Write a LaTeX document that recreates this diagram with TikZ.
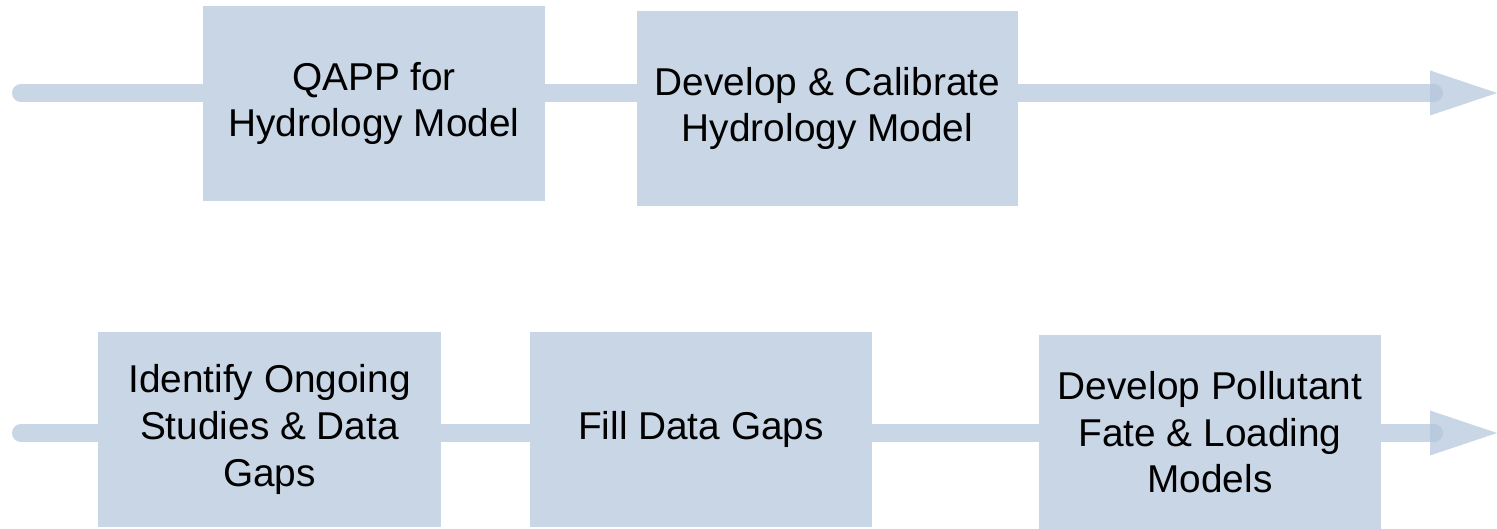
\documentclass[tikz,border=0pt]{standalone}
\usepackage{fontspec}
\setmainfont{Liberation Sans}
\usetikzlibrary{positioning}
\definecolor{boxblue}{RGB}{201,214,230}
\definecolor{flowblue}{RGB}{178,196,219}

\begin{document}
\begin{tikzpicture}[x=0.5pt,y=-0.5pt]
   \tikzstyle{box}=[fill=boxblue, inner sep=0pt, minimum height=97.5pt, align=center, font=\fontsize{19.4}{23.3}\selectfont]
   \tikzstyle{flow}=[draw=flowblue, opacity=0.7, line width=9pt, line cap=round]
   \tikzstyle{head}=[fill=flowblue, opacity=0.7]
   \useasboundingbox (0,0) rectangle (1497,529);

\coordinate (startA) at (21,93);
\coordinate (endA) at (1434,93);
\coordinate (tipA) at (1497,93);
\coordinate (startB) at (21,433);
\coordinate (endB) at (1434,433);
\coordinate (tipB) at (1497,433);

\draw[flow] (startA) -- (endA);
\fill[head] (tipA) -- ++(-67,-22.5) -- ++(0,45) -- cycle;
\draw[flow] (startB) -- (endB);
\fill[head] (tipB) -- ++(-67,-22.5) -- ++(0,45) -- cycle;

\node[box, minimum width=171pt] (qapp) at (374,103.5) {QAPP for\\Hydrology Model};
\node[box, minimum width=190.5pt] (calib) at (827.5,108.5) {Develop \& Calibrate\\Hydrology Model};
\node[box, minimum width=171.5pt] (ident) at (269.5,429.5) {Identify Ongoing\\Studies \& Data\\Gaps};
\node[box, minimum width=171pt] (gaps) at (701,429.5) {Fill Data Gaps};
\node[box, minimum width=171pt] (pollut) at (1210,432.5) {Develop Pollutant\\Fate \& Loading\\Models};

\end{tikzpicture}
\end{document}
